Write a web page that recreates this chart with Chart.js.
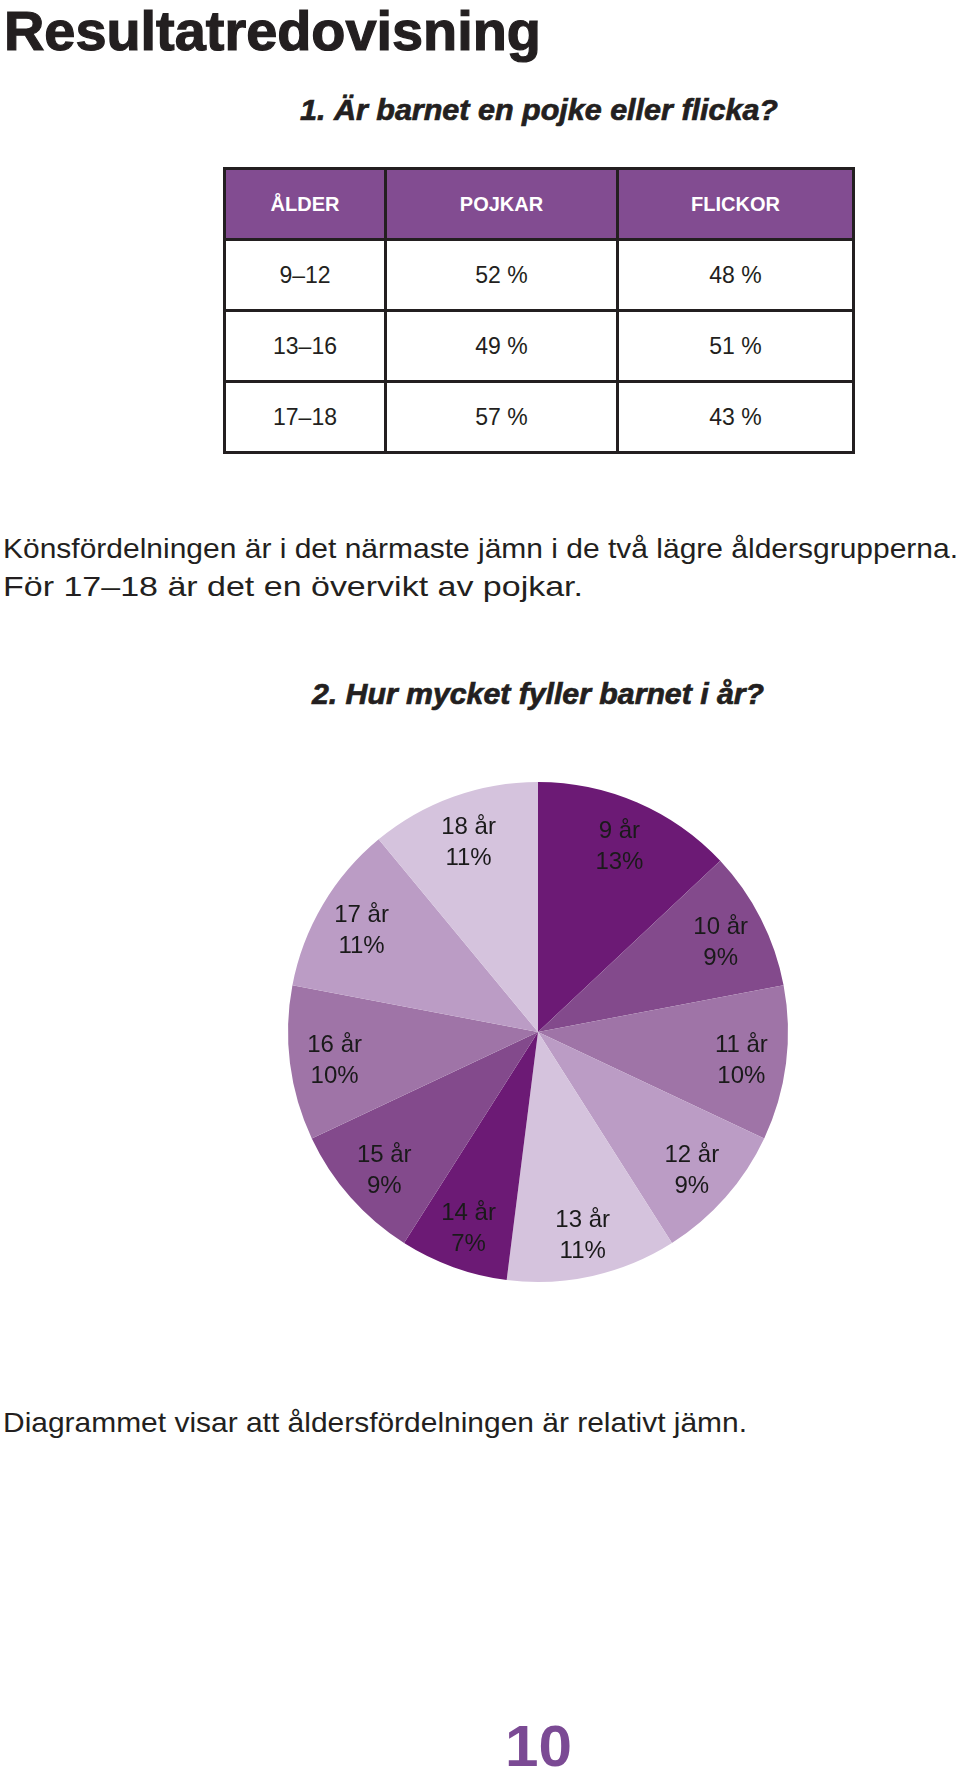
<!DOCTYPE html>
<html><head><meta charset="utf-8">
<script src="https://cdn.jsdelivr.net/npm/chart.js@4"></script>
<style>
html,body{margin:0;padding:0;background:#fff;}
body{width:960px;height:1776px;position:relative;overflow:hidden;font-family:"Liberation Sans Narrow","Liberation Sans",Arial,sans-serif;color:#231f20;}
.t{position:absolute;white-space:nowrap;line-height:0.85;transform-origin:0 0;}
.hd{font-weight:bold;font-style:italic;-webkit-text-stroke:0.7px #231f20;}
#tbl{position:absolute;left:223px;top:167px;border-collapse:collapse;table-layout:fixed;}
#tbl td,#tbl th{border:3px solid #231f20;height:68px;padding:0;text-align:center;vertical-align:middle;}
#tbl th{background:#824c91;color:#fff;font-family:"Liberation Sans",Arial,sans-serif;font-weight:bold;font-size:20px;}
#tbl td{font-family:"Liberation Sans",Arial,sans-serif;font-size:23px;color:#231f20;}
#pieBox{position:absolute;left:278px;top:772px;width:520px;height:520px;}
</style>
</head><body>
<div class="t" data-x="4" data-base="50" data-size="55" data-w="537" style="font-weight:bold;color:#231f20;-webkit-text-stroke:1.2px #231f20;">Resultatredovisning</div>
<div class="t hd" data-x="300" data-base="120" data-size="29" data-w="478">1. Är barnet en pojke eller flicka?</div>
<table id="tbl"></table>
<div class="t" data-x="3" data-base="559" data-size="28" data-w="955">Könsfördelningen är i det närmaste jämn i de två lägre åldersgrupperna.</div>
<div class="t" data-x="3" data-base="597" data-size="28" data-w="580">För 17–18 är det en övervikt av pojkar.</div>
<div class="t hd" data-x="312" data-base="704" data-size="29" data-w="452">2. Hur mycket fyller barnet i år?</div>
<div id="pieBox"><canvas id="pie" width="520" height="520"></canvas></div>
<div class="t" data-x="3" data-base="1433" data-size="28" data-w="744">Diagrammet visar att åldersfördelningen är relativt jämn.</div>
<div class="t" data-x="505" data-base="1766" data-size="58" data-w="67" style="font-family:'Liberation Sans',Arial,sans-serif;font-weight:bold;color:#7b4a94;">10</div>
<script>
// ---- Data ----
const tableHeaders = ["ÅLDER", "POJKAR", "FLICKOR"];
const ageGroups = ["9–12", "13–16", "17–18"];
const boysPct = [52, 49, 57];
const girlsPct = [48, 51, 43];

const ageLabels = ["9 år", "10 år", "11 år", "12 år", "13 år", "14 år", "15 år", "16 år", "17 år", "18 år"];
const agePct = [13, 9, 10, 9, 11, 7, 9, 10, 11, 11];

// ---- Styles ----
const sliceColors = ["#6c1a75", "#834a8c", "#9f74a7", "#bb9cc5", "#d5c3dd",
                     "#6c1a75", "#834a8c", "#9f74a7", "#bb9cc5", "#d5c3dd"];
const colWidths = [161, 232, 236];

// ---- Table ----
const tbl = document.getElementById('tbl');
const cg = document.createElement('colgroup');
colWidths.forEach(w => { const c = document.createElement('col'); c.style.width = w + 'px'; cg.appendChild(c); });
tbl.appendChild(cg);
const hr = document.createElement('tr');
tableHeaders.forEach(h => { const th = document.createElement('th'); th.textContent = h; hr.appendChild(th); });
tbl.appendChild(hr);
ageGroups.forEach((g, i) => {
  const tr = document.createElement('tr');
  [g, boysPct[i] + ' %', girlsPct[i] + ' %'].forEach(v => { const td = document.createElement('td'); td.textContent = v; tr.appendChild(td); });
  tbl.appendChild(tr);
});

// ---- Text placement ----
document.querySelectorAll('.t').forEach(el => {
  const size = +el.dataset.size;
  el.style.fontSize = size + 'px';
  el.style.left = el.dataset.x + 'px';
  el.style.top = (+el.dataset.base - 0.7715 * size) + 'px';
  const w = el.getBoundingClientRect().width;
  const target = +el.dataset.w;
  if (w > 0 && target) el.style.transform = 'scaleX(' + (target / w) + ')';
});

// ---- Pie ----
const labelPlugin = {
  id: 'sliceLabels',
  afterDatasetsDraw(chart) {
    const ctx = chart.ctx;
    const meta = chart.getDatasetMeta(0);
    ctx.save();
    ctx.fillStyle = '#1a1a1a';
    ctx.font = '24px "Liberation Sans", Arial, sans-serif';
    ctx.textAlign = 'center';
    ctx.textBaseline = 'middle';
    meta.data.forEach((arc, i) => {
      const p = arc.getProps(['x', 'y', 'startAngle', 'endAngle', 'outerRadius'], true);
      const mid = (p.startAngle + p.endAngle) / 2;
      const r = p.outerRadius * 0.82;
      const cx = p.x + Math.cos(mid) * r;
      const cy = p.y + Math.sin(mid) * r + 3;
      ctx.fillText(chart.data.labels[i], cx, cy - 15);
      ctx.fillText(chart.data.datasets[0].data[i] + '%', cx, cy + 16);
    });
    ctx.restore();
  }
};

new Chart(document.getElementById('pie'), {
  type: 'pie',
  data: {
    labels: ageLabels,
    datasets: [{ data: agePct, backgroundColor: sliceColors, borderWidth: 0 }]
  },
  options: {
    responsive: false,
    animation: false,
    layout: { padding: 10 },
    plugins: { legend: { display: false }, tooltip: { enabled: false }, title: { display: false } }
  },
  plugins: [labelPlugin]
});
</script>
</body></html>
